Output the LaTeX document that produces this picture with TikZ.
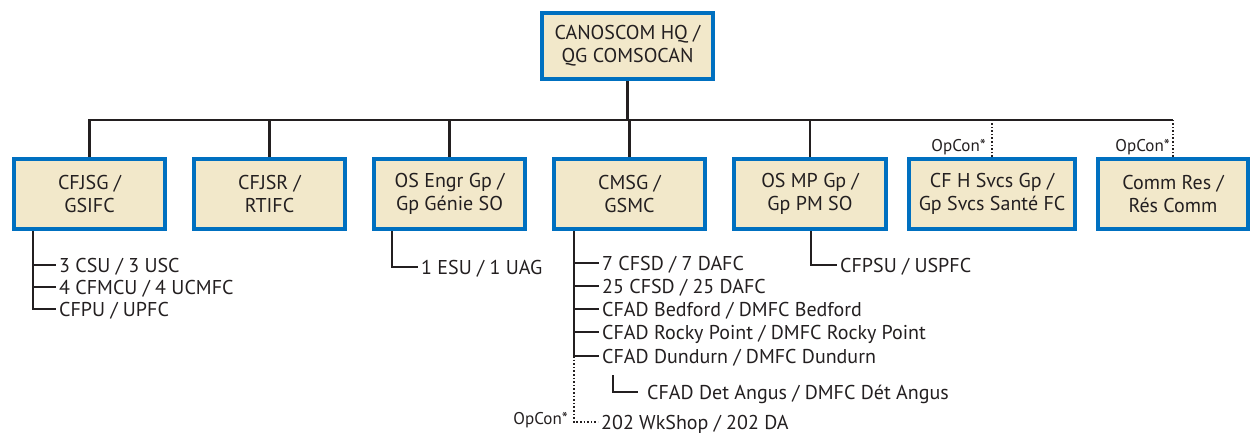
\documentclass[tikz,border=0pt]{standalone}
\usepackage{fontspec}
\setmainfont{PT Sans}
\usetikzlibrary{calc}
\definecolor{boxblue}{RGB}{0,112,192}
\definecolor{boxfill}{RGB}{242,232,202}
\definecolor{ink}{RGB}{35,31,32}
\begin{document}
\begin{tikzpicture}[x=1pt,y=-1pt,
  unit/.style={draw=boxblue, fill=boxfill, line width=4pt, rectangle, align=center,
    text=ink, font=\fontsize{20}{23}\selectfont, inner sep=0pt, minimum height=70pt},
  conn/.style={draw=ink, line width=2.2pt},
  opline/.style={draw=ink, line width=1.6pt, dotted},
  item/.style={anchor=west, inner ysep=0pt, inner xsep=3pt, text=ink, text height=14pt, text depth=0pt,
    font=\fontsize{20}{23}\selectfont},
  oplabel/.style={anchor=east, inner sep=0pt, text=ink, text height=11pt, text depth=0pt,
    font=\fontsize{17}{20}\selectfont}]
\useasboundingbox (0,0) rectangle (1253,433);
% units
\node[unit, minimum width=171pt, minimum height=66pt] (hq) at (627.5,46) {CANOSCOM HQ /\\QG COMSOCAN};
\node[unit, minimum width=151pt] (b1) at (89.5,194) {CFJSG /\\GSIFC};
\node[unit, minimum width=151pt] (b2) at (269.5,194) {CFJSR /\\RTIFC};
\node[unit, minimum width=151pt] (b3) at (449.5,194) {OS Engr Gp /\\Gp Génie SO};
\node[unit, minimum width=151pt] (b4) at (629.5,194) {CMSG /\\GSMC};
\node[unit, minimum width=152pt] (b5) at (810,194) {OS MP Gp /\\Gp PM SO};
\node[unit, minimum width=166pt] (b6) at (992,194) {CF H Svcs Gp /\\Gp Svcs Santé FC};
\node[unit, minimum width=150pt] (b7) at (1173,194) {Comm Res /\\Rés Comm};
% bus
\coordinate (bus) at (0,120);
\draw[conn] (hq.south) -- (hq.south |- bus);
\draw[conn] (b1.north) -- (b1.north |- bus) -- (b7.north |- bus);
\foreach \b in {b2,b3,b4,b5} \draw[conn] (\b.north) -- (\b.north |- bus);
\draw[opline] (b6.north) -- (b6.north |- bus);
\draw[opline] (b7.north) -- (b7.north |- bus);
\node[oplabel] (op1) at (986,146) {OpCon*};
\node[oplabel] (op2) at (1170,146) {OpCon*};
% CFJSG group
\coordinate (t1) at ($(b1.south west)+(21,0)$);
\node[item] (i11) at (56,265) {3 CSU / 3 USC};
\node[item] (i12) at (56,287) {4 CFMCU / 4 UCMFC};
\node[item] (i13) at (56,309) {CFPU / UPFC};
\draw[conn] (t1) |- (i13.west);
\draw[conn] (t1 |- i11.west) -- (i11.west);
\draw[conn] (t1 |- i12.west) -- (i12.west);
% OS Engr group
\coordinate (t3) at ($(b3.south west)+(20,0)$);
\node[item] (i31) at (418,267) {1 ESU / 1 UAG};
\draw[conn] (t3) |- (i31.west);
% CMSG group
\coordinate (t4) at ($(b4.south west)+(22,0)$);
\node[item] (i41) at (599,263) {7 CFSD / 7 DAFC};
\node[item] (i42) at (599,286) {25 CFSD / 25 DAFC};
\node[item] (i43) at (599,309) {CFAD Bedford / DMFC Bedford};
\node[item] (i44) at (599,332) {CFAD Rocky Point / DMFC Rocky Point};
\node[item] (i45) at (599,356) {CFAD Dundurn / DMFC Dundurn};
\node[item, inner xsep=9pt] (i46) at (638,392) {CFAD Det Angus / DMFC Dét Angus};
\node[item] (i47) at (598,422) {202 WkShop / 202 DA};
\draw[conn] (t4) |- (i45.west);
\foreach \i in {i41,i42,i43,i44} \draw[conn] (t4 |- \i.west) -- (\i.west);
\draw[conn] ($(i46.west)+(-25,-17)$) |- (i46.west);
\draw[opline] (t4 |- i45.west) |- (i47.west);
\node[oplabel] (op3) at (568,419) {OpCon*};
% OS MP group
\coordinate (t5) at ($(b5.south west)+(79,0)$);
\node[item] (i51) at (837,265) {CFPSU / USPFC};
\draw[conn] (t5) |- (i51.west);
\end{tikzpicture}
\end{document}
